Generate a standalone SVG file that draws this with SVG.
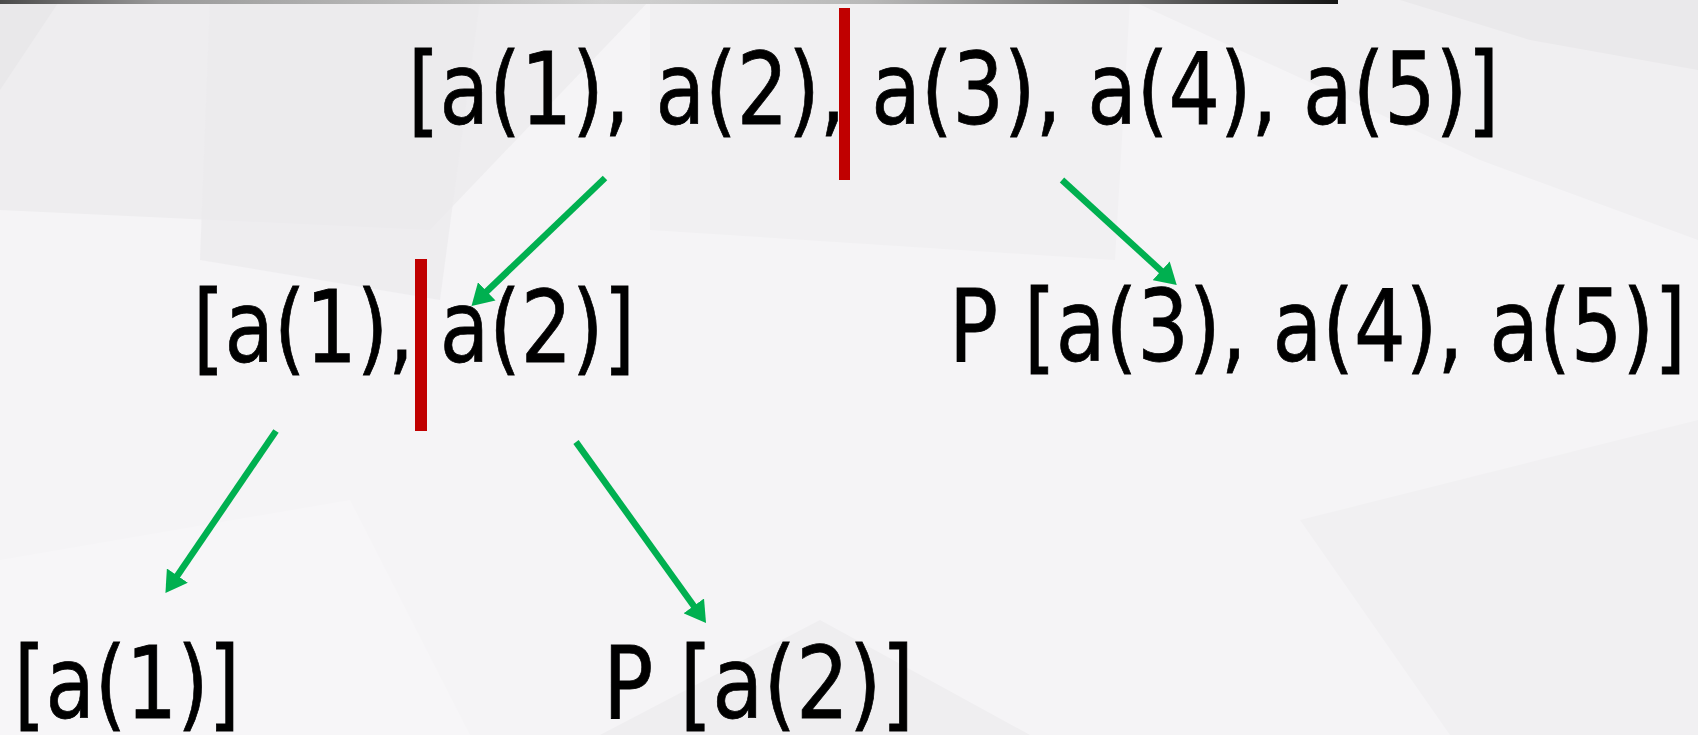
<svg xmlns="http://www.w3.org/2000/svg" width="1698" height="735" viewBox="0 0 1698 735">
<style>
.t{font-family:"DejaVu Sans","Liberation Sans",sans-serif;font-size:100px;fill:#000;stroke:#000;stroke-width:0.8}
.arr{stroke:#00B050;stroke-width:6.5;fill:none}
.cut{fill:#C00000}
</style>
<defs>
<linearGradient id="bar" x1="0" y1="0" x2="1" y2="0">
<stop offset="0" stop-color="#4a4a4a"/>
<stop offset="0.12" stop-color="#9a9a9a"/>
<stop offset="0.45" stop-color="#d2d2d2"/>
<stop offset="0.65" stop-color="#b8b8b8"/>
<stop offset="0.85" stop-color="#6a6a6a"/>
<stop offset="1" stop-color="#151515"/>
</linearGradient>
<marker id="ah" viewBox="0 0 10 12" refX="6" refY="6" markerWidth="3.3" markerHeight="3.9" orient="auto" markerUnits="strokeWidth">
<path d="M0,0 L10,6 L0,12 Z" fill="#00B050"/>
</marker>
</defs>
<g id="background">
<rect width="1698" height="735" fill="#f5f4f6"/>
<polygon points="0,0 650,0 430,230 0,210" fill="#eeedef"/>
<polygon points="0,0 60,0 0,90" fill="#e9e8ea"/>
<polygon points="210,0 480,0 440,300 200,260" fill="#ebeaec" opacity="0.7"/>
<polygon points="650,0 1130,0 1115,260 650,230" fill="#f1f0f2"/>
<polygon points="1130,0 1698,0 1698,240 1480,160" fill="#f0eff1"/>
<polygon points="1400,0 1698,0 1698,70 1530,40" fill="#eae9eb"/>
<polygon points="0,560 350,500 470,735 0,735" fill="#f7f6f8"/>
<polygon points="600,735 820,620 1030,735" fill="#efeef0"/>
<polygon points="1300,520 1698,420 1698,735 1450,735" fill="#f1f0f2"/>
</g>
<rect id="topbar" x="0" y="0" width="1338" height="4" fill="url(#bar)"/>
<g id="connectors">
<line class="arr" x1="605" y1="178" x2="477.6" y2="300.2" marker-end="url(#ah)"/>
<line class="arr" x1="1062" y1="180" x2="1170.5" y2="279.3" marker-end="url(#ah)"/>
<line class="arr" x1="276" y1="431" x2="170.2" y2="586.1" marker-end="url(#ah)"/>
<line class="arr" x1="576" y1="442" x2="701.1" y2="616.2" marker-end="url(#ah)"/>
</g>
<g id="node-root">
<text class="t" x="408" y="124" textLength="1091" lengthAdjust="spacingAndGlyphs">[a(1), a(2), a(3), a(4), a(5)]</text>
<rect class="cut" x="839" y="8" width="11" height="172"/>
</g>
<g id="node-left">
<text class="t" x="193" y="362" textLength="442" lengthAdjust="spacingAndGlyphs">[a(1), a(2)]</text>
<rect class="cut" x="415" y="259" width="12" height="172"/>
</g>
<g id="node-right">
<text class="t" x="949" y="361" textLength="737" lengthAdjust="spacingAndGlyphs">P [a(3), a(4), a(5)]</text>
</g>
<g id="node-leaf1">
<text class="t" x="14" y="718" textLength="226" lengthAdjust="spacingAndGlyphs">[a(1)]</text>
</g>
<g id="node-leaf2">
<text class="t" x="603" y="718" textLength="311" lengthAdjust="spacingAndGlyphs">P [a(2)]</text>
</g>
</svg>
